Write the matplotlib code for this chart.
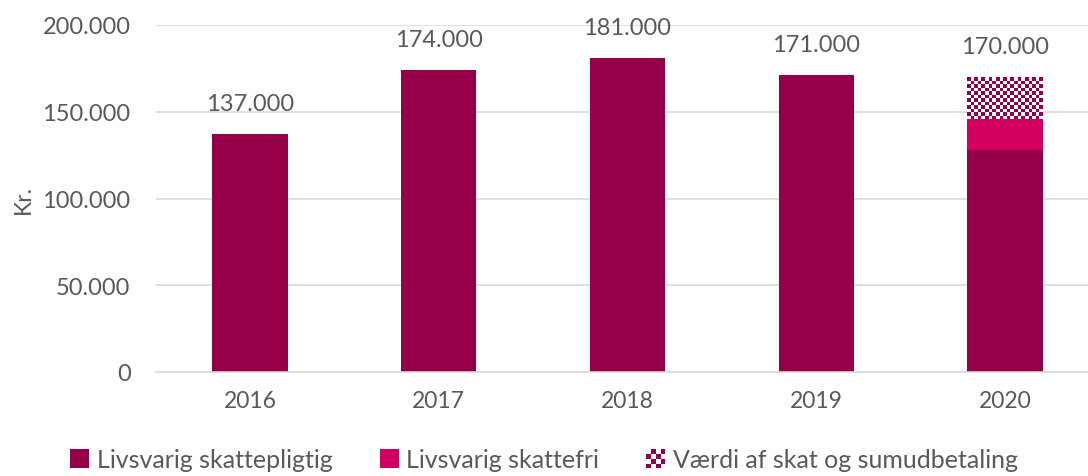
import matplotlib
matplotlib.use("Agg")
import matplotlib.pyplot as plt
import numpy as np
from matplotlib.patches import Patch, Rectangle
from matplotlib.legend_handler import HandlerPatch

years = ["2016", "2017", "2018", "2019", "2020"]
skattepligtig = [137000, 174000, 181000, 171000, 128000]
skattefri = [0, 0, 0, 0, 18000]
vaerdi = [0, 0, 0, 0, 24000]
totals = [137000, 174000, 181000, 171000, 170000]
yticks = [0, 50000, 100000, 150000, 200000]
legend_labels = ["Livsvarig skattepligtig", "Livsvarig skattefri", "Værdi af skat og sumudbetaling"]

DARK = "#960048"
PINK = "#D2005F"
TXT = "#595959"

plt.rcParams['font.family'] = ['Lato', 'DejaVu Sans']

fig = plt.figure(figsize=(10.88, 4.77), dpi=100)
ax = fig.add_axes([155.5/1088, 1 - 373/477, (1099.5-155.5)/1088, 347/477])

x = np.arange(len(years))
w = 0.40
b1 = ax.bar(x, skattepligtig, w, color=DARK, zorder=2)
b2 = ax.bar(x, skattefri, w, bottom=skattepligtig, color=PINK, zorder=2)
bottom3 = [a + b for a, b in zip(skattepligtig, skattefri)]
b3 = ax.bar(x, vaerdi, w, bottom=bottom3, color="none", zorder=2)

ax.set_xlim(-0.5, len(years) - 0.5)
ax.set_ylim(0, 200000)

# checker fill for the third series, clipped to each bar
cmap = matplotlib.colors.ListedColormap(["#ffffff", DARK])
for rect, v in zip(b3, vaerdi):
    if v <= 0:
        continue
    x0 = rect.get_x()
    x1 = x0 + rect.get_width()
    y0 = rect.get_y()
    y1 = y0 + rect.get_height()
    p0 = ax.transData.transform((x0, y0))
    p1 = ax.transData.transform((x1, y1))
    nx = max(1, int(round(abs(p1[0] - p0[0]) / 3.6)))
    ny = max(1, int(round(abs(p1[1] - p0[1]) / 3.6)))
    ii, jj = np.indices((ny, nx))
    chk = ((ii + jj) % 2).astype(float)
    im = ax.imshow(chk, extent=(x0, x1, y0, y1), cmap=cmap, interpolation="nearest",
                   aspect="auto", zorder=2.5, origin="lower")
    im.set_clip_path(rect)
ax.set_aspect("auto")
ax.set_xlim(-0.5, len(years) - 0.5)
ax.set_ylim(0, 200000)

for xi, t in zip(x, totals):
    ax.annotate(f"{t:,}".replace(",", "."), (xi, t), xytext=(0, 22), textcoords="offset points",
                ha="center", va="center", fontsize=17, color=TXT)

ax.set_yticks(yticks)
ax.set_yticklabels([f"{v:,}".replace(",", ".") for v in yticks])
ax.set_xticks(x)
ax.set_xticklabels(years)
ax.tick_params(axis="y", length=0, labelsize=17, colors=TXT, pad=18)
ax.tick_params(axis="x", length=0, labelsize=16.5, colors=TXT, pad=13)
ax.yaxis.grid(True, color="#d9d9d9", linewidth=1.2, zorder=0)
ax.set_axisbelow(True)
for s in ["top", "right", "left"]:
    ax.spines[s].set_visible(False)
ax.spines["bottom"].set_color("#d9d9d9")
ax.spines["bottom"].set_linewidth(1.2)
ax.set_ylabel("Kr.", fontsize=16.5, color=TXT, labelpad=6)


class CheckerHandler(HandlerPatch):
    def create_artists(self, legend, orig_handle, xdescent, ydescent, width, height, fontsize, trans):
        arts = []
        n = 4
        size = height
        x0 = -xdescent + (width - size) / 2
        y0 = -ydescent
        cw = size / n
        arts.append(Rectangle((x0, y0), size, size, facecolor="white", edgecolor="none", transform=trans))
        for i in range(n):
            for j in range(n):
                if (i + j) % 2 == 0:
                    arts.append(Rectangle((x0 + j * cw, y0 + i * cw), cw, cw, facecolor=DARK,
                                          edgecolor="none", transform=trans))
        return arts


handles = [Patch(facecolor=DARK), Patch(facecolor=PINK), Patch(facecolor="white")]
leg = fig.legend(handles, legend_labels, loc="center", bbox_to_anchor=(0.5, 1 - 461/477),
                 ncol=3, frameon=False, fontsize=18, handlelength=0.75, handleheight=0.8,
                 handletextpad=0.3, columnspacing=1.9, labelcolor=TXT,
                 handler_map={handles[2]: CheckerHandler()})

fig.savefig("out.png", dpi=100)
